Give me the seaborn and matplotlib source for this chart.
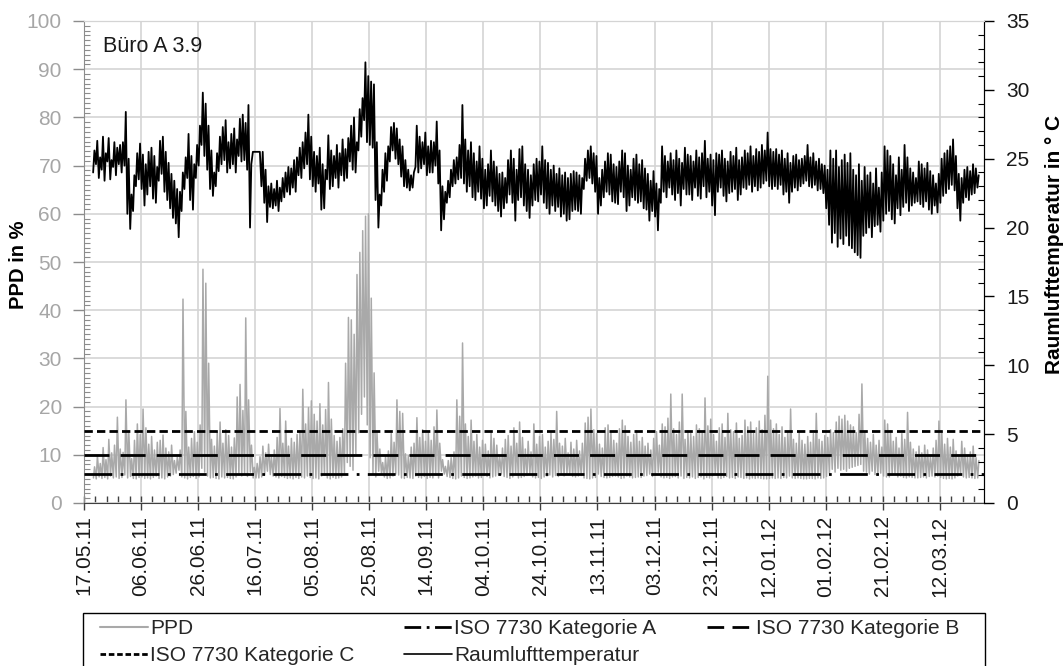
import numpy as np
import pandas as pd
import matplotlib
matplotlib.use("Agg")
import matplotlib.pyplot as plt
import matplotlib.dates as mdates
from matplotlib.ticker import MultipleLocator, FixedLocator
from matplotlib.lines import Line2D
from matplotlib.patches import Rectangle
import seaborn as sns

# ---------------- data ----------------
start_date = "2011-05-17"
first_day = 3          # first measured day after 17.05.11

# Raumlufttemperatur: daily high / low values (°C), days 3..313
temp_hi = [
    25.6, 26.3, 25.1, 26.6, 25.4, 26.5, 24.9, 26.2, 25.8, 26.0,
    26.2, 28.4, 25.0, 22.4, 23.8, 25.4, 26.1, 25.3, 24.6, 25.5,
    25.8, 25.2, 24.4, 26.3, 26.6, 25.5, 24.7, 23.9, 23.4, 22.8,
    22.6, 24.0, 25.1, 26.8, 25.2, 24.6, 26.0, 27.4, 29.8, 29.0,
    27.4, 25.6, 24.0, 25.4, 26.6, 27.3, 27.8, 26.2, 26.8, 27.2,
    26.4, 27.9, 28.2, 27.6, 28.9, 24.6, 25.5, 25.5, 25.5, 25.5,
    24.2, 23.0, 23.2, 22.8, 23.4, 22.9, 23.6, 24.0, 24.4, 24.3,
    24.9, 25.1, 25.8, 26.2, 26.9, 28.2, 26.6, 25.5, 25.2, 25.8,
    24.6, 24.2, 26.7, 25.6, 25.2, 26.0, 25.4, 26.4, 25.7, 26.5,
    27.4, 28.0, 26.2, 28.6, 29.4, 32.0, 31.0, 30.6, 30.4, 26.2,
    22.4, 24.2, 25.4, 25.9, 27.3, 27.6, 27.2, 26.4, 25.9, 24.9,
    24.2, 23.8, 24.0, 27.4, 26.6, 26.2, 26.9, 25.9, 26.3, 26.2,
    27.7, 25.6, 23.0, 22.6, 23.4, 24.2, 24.9, 25.1, 26.0, 28.9,
    26.4, 25.6, 26.2, 25.4, 24.8, 25.9, 25.0, 24.2, 24.6, 25.6,
    24.8, 24.4, 23.9, 24.0, 23.6, 24.9, 25.6, 25.0, 24.2, 25.7,
    25.9, 24.6, 24.2, 23.8, 24.6, 25.0, 24.8, 25.9, 24.9, 24.7,
    24.2, 24.5, 23.9, 24.3, 23.8, 24.0, 23.6, 23.9, 24.1, 24.0,
    23.8, 23.6, 25.0, 25.6, 25.9, 25.4, 25.2, 23.6, 24.2, 24.8,
    25.4, 25.3, 24.6, 24.4, 24.8, 25.6, 25.4, 24.5, 24.2, 25.0,
    25.3, 24.6, 24.9, 24.3, 23.9, 23.4, 24.1, 23.2, 22.8, 25.9,
    25.2, 24.8, 25.4, 24.9, 25.6, 25.0, 24.7, 25.8, 25.3, 25.2,
    24.8, 25.6, 25.1, 25.4, 26.3, 25.0, 25.3, 24.9, 25.4, 25.3,
    25.6, 25.0, 24.8, 25.5, 25.2, 25.8, 24.9, 25.1, 25.6, 25.4,
    25.9, 25.2, 25.7, 25.5, 26.0, 25.6, 26.9, 25.7, 25.5, 25.7,
    25.3, 25.6, 25.0, 25.4, 24.7, 25.2, 25.3, 24.9, 25.0, 25.2,
    26.0, 25.1, 25.4, 24.8, 25.0, 24.6, 24.5, 24.2, 25.6, 25.0,
    25.6, 24.4, 24.9, 25.3, 24.7, 25.4, 24.2, 23.8, 24.6, 23.4,
    24.4, 23.8, 24.0, 23.2, 24.3, 22.9, 24.0, 25.9, 25.6, 25.2,
    24.6, 23.8, 25.1, 24.2, 26.0, 25.1, 24.3, 24.0, 23.6, 24.8,
    24.6, 24.3, 24.7, 24.1, 23.8, 23.2, 23.9, 25.0, 25.4, 25.6,
    25.9, 26.4, 25.2, 23.9, 23.6, 24.2, 24.4, 24.1, 24.6, 24.3,
    23.8,
]
temp_lo = [
    24.0, 24.6, 23.6, 24.2, 23.4, 24.8, 23.5, 24.4, 23.8, 24.6,
    24.0, 24.5, 21.0, 19.9, 21.2, 23.0, 23.5, 22.8, 21.6, 22.4,
    23.0, 22.1, 21.8, 23.4, 23.9, 22.6, 22.0, 21.4, 20.7, 20.3,
    19.3, 21.2, 22.8, 23.6, 22.0, 21.3, 23.6, 24.5, 26.0, 25.2,
    24.2, 22.8, 22.3, 23.0, 24.1, 24.6, 24.9, 24.0, 24.3, 24.6,
    24.0, 25.2, 24.8, 24.9, 24.2, 20.0, 25.5, 25.5, 25.5, 23.0,
    21.8, 20.4, 21.5, 21.4, 21.6, 21.2, 21.9, 22.2, 22.6, 22.4,
    22.9, 22.6, 23.8, 23.6, 24.3, 24.6, 23.5, 23.0, 22.6, 23.2,
    21.3, 21.4, 23.5, 22.8, 23.0, 23.6, 22.9, 23.8, 23.4, 23.6,
    24.8, 24.2, 24.0, 25.6, 26.6, 27.8, 26.2, 26.0, 25.8, 22.0,
    20.0, 21.6, 22.6, 23.4, 24.8, 25.6, 25.0, 24.6, 23.7, 23.0,
    22.9, 22.7, 22.9, 24.4, 24.0, 24.3, 24.6, 23.8, 24.0, 24.0,
    24.5, 23.2, 19.8, 20.6, 21.8, 22.2, 23.0, 23.2, 23.5, 23.6,
    23.2, 22.6, 23.0, 22.2, 22.0, 22.6, 22.1, 21.4, 21.6, 22.3,
    21.9, 21.6, 21.2, 20.8, 21.4, 21.8, 22.4, 21.8, 20.5, 22.0,
    22.2, 21.6, 21.2, 20.7, 21.6, 22.0, 21.9, 22.4, 21.8, 21.4,
    21.0, 21.6, 21.2, 21.5, 20.8, 21.0, 20.5, 20.6, 21.2, 21.3,
    21.2, 21.0, 22.8, 23.4, 23.6, 23.2, 22.6, 21.0, 21.6, 22.2,
    22.6, 22.4, 21.9, 21.8, 21.7, 22.6, 22.2, 21.2, 21.6, 22.2,
    22.0, 21.8, 21.9, 21.4, 21.3, 20.5, 21.2, 20.8, 19.8, 21.8,
    22.6, 22.2, 22.9, 22.4, 22.0, 22.5, 21.6, 22.8, 22.4, 22.4,
    22.0, 22.9, 22.3, 22.1, 23.0, 22.2, 22.6, 21.6, 20.9, 22.6,
    22.9, 22.3, 21.9, 22.5, 22.6, 22.8, 22.0, 22.4, 22.9, 22.8,
    23.1, 22.6, 23.0, 22.7, 22.9, 23.2, 23.4, 23.0, 22.8, 23.0,
    22.8, 23.1, 22.4, 22.6, 21.8, 22.6, 22.9, 22.7, 23.0, 23.2,
    23.4, 23.0, 22.9, 23.1, 22.7, 22.8, 22.5, 21.4, 20.2, 18.9,
    19.6, 18.6, 19.2, 18.8, 19.4, 18.7, 18.5, 18.2, 18.0, 17.8,
    19.4, 19.6, 20.0, 19.3, 20.1, 20.2, 19.7, 20.5, 21.0, 21.2,
    20.6, 20.3, 21.4, 20.9, 21.5, 21.8, 21.2, 21.6, 21.8, 21.9,
    21.7, 21.5, 21.9, 21.3, 21.0, 21.6, 21.1, 21.8, 22.3, 22.5,
    22.8, 23.1, 22.7, 21.4, 20.5, 21.8, 22.2, 22.0, 22.4, 22.5,
    22.9,
]

# PPD: daily high / low values (%), days 3..313
ppd_hi = [
    7.5, 9.8, 8.2, 11.5, 9.0, 13.2, 10.4, 12.0, 17.8, 11.2,
    10.5, 21.4, 15.0, 9.2, 13.0, 16.4, 14.2, 19.5, 15.6, 12.2,
    13.8, 11.0, 12.6, 13.0, 14.1, 11.4, 10.6, 12.0, 8.8, 9.5,
    11.0, 42.3, 19.0, 11.6, 13.4, 14.8, 12.6, 16.2, 48.5, 45.6,
    29.0, 13.2, 11.8, 14.6, 16.8, 12.4, 15.2, 14.0, 11.6, 13.5,
    22.0, 24.6, 19.2, 38.4, 21.4, 12.0, 7.4, 8.2, 9.6, 11.8,
    10.4, 12.2, 9.6, 11.0, 13.6, 19.6, 12.4, 17.0, 11.8, 13.4,
    12.6, 14.2, 15.0, 23.6, 16.4, 19.8, 21.2, 18.4, 17.0, 20.6,
    16.2, 19.4, 25.0, 17.4, 14.0, 12.8, 13.6, 15.4, 29.0, 38.5,
    38.0, 35.0, 47.4, 52.0, 56.5, 59.5, 60.0, 42.5, 27.0, 14.6,
    11.2, 8.4, 9.6, 10.8, 14.4, 12.6, 21.4, 19.0, 18.6, 10.2,
    9.8, 11.6, 12.4, 17.7, 13.6, 15.2, 12.8, 14.6, 13.0, 15.8,
    19.3, 12.4, 9.0, 7.6, 8.8, 9.4, 10.6, 21.4, 18.0, 33.2,
    16.4, 13.8, 17.2, 12.8, 14.2, 11.6, 13.0, 12.2, 10.8, 14.6,
    13.4, 12.0, 9.8, 11.4, 13.2, 14.0, 11.8, 15.6, 12.4, 16.8,
    13.6, 11.2, 12.8, 10.6, 16.4, 12.2, 13.8, 14.2, 11.6, 12.8,
    14.6, 13.2, 19.0, 12.4, 11.8, 13.4, 10.4, 12.6, 11.2, 13.0,
    10.8, 12.4, 16.6, 17.8, 19.5, 15.2, 14.4, 12.2, 11.4, 15.6,
    16.2, 14.8, 13.0, 12.4, 15.4, 17.2, 16.0, 13.8, 12.6, 14.2,
    15.0, 12.8, 13.6, 11.8, 12.4, 11.0, 13.4, 14.8, 12.0, 16.4,
    15.8, 17.6, 22.6, 15.4, 14.2, 16.8, 22.6, 13.2, 15.0, 14.4,
    13.8, 16.2, 15.4, 14.6, 21.8, 16.0, 17.4, 14.2, 12.8, 15.6,
    16.4, 13.6, 18.6, 15.2, 14.8, 16.6, 13.4, 14.0, 17.2, 15.8,
    16.8, 14.4, 15.6, 17.0, 15.2, 18.2, 26.3, 17.2, 15.4, 16.4,
    14.2, 15.8, 13.6, 14.8, 19.5, 13.2, 12.4, 14.6, 13.0, 12.2,
    13.8, 12.6, 14.4, 18.6, 13.2, 12.8, 14.0, 13.6, 15.2, 14.6,
    16.8, 18.0, 17.4, 18.2, 17.0, 16.2, 15.8, 14.6, 18.4, 24.7,
    14.8, 13.4, 12.6, 14.2, 12.0, 13.0, 11.6, 17.2, 16.4, 15.0,
    12.8, 13.6, 11.4, 14.4, 13.2, 18.8, 12.6, 11.2, 10.6, 11.8,
    10.4, 12.0, 11.0, 9.8, 11.4, 13.0, 17.0, 14.8, 12.2, 13.4,
    11.6, 13.2, 10.8, 9.6, 12.8, 11.4, 9.8, 10.6, 11.8, 9.4,
    8.8,
]
ppd_lo = [
    5.2, 5.0, 5.4, 5.1, 5.3, 5.0, 5.6, 5.2, 5.4, 5.1,
    5.3, 5.8, 5.2, 5.5, 5.1, 5.0, 5.3, 5.4, 5.1, 5.2,
    5.0, 5.3, 5.6, 5.1, 5.2, 5.0, 5.4, 5.6, 5.9, 6.2,
    6.8, 5.4, 5.2, 5.0, 5.3, 5.5, 5.1, 5.4, 7.2, 6.4,
    5.6, 5.2, 5.3, 5.1, 5.0, 5.4, 5.2, 5.3, 5.1, 5.0,
    5.4, 5.8, 5.6, 6.0, 5.5, 6.4, 5.2, 5.2, 5.2, 5.4,
    5.8, 6.6, 5.9, 5.6, 5.4, 5.2, 5.5, 5.3, 5.1, 5.2,
    5.0, 5.3, 5.1, 5.4, 5.2, 5.6, 5.3, 5.1, 5.2, 5.0,
    5.6, 5.8, 5.2, 5.0, 5.3, 5.1, 5.2, 5.4, 6.2, 8.4,
    7.6, 6.8, 10.2, 14.6, 18.4, 22.0, 16.2, 9.4, 6.0, 5.4,
    6.6, 6.0, 5.4, 5.1, 5.2, 5.6, 6.0, 5.8, 5.2, 5.1,
    5.3, 5.2, 5.1, 5.6, 5.3, 5.2, 5.5, 5.1, 5.3, 5.2,
    5.8, 5.2, 6.6, 6.0, 5.5, 5.3, 5.1, 5.0, 5.2, 5.6,
    5.3, 5.1, 5.2, 5.4, 5.6, 5.2, 5.3, 5.7, 5.5, 5.2,
    5.4, 5.6, 5.8, 6.0, 5.5, 5.3, 5.1, 5.4, 5.9, 5.2,
    5.3, 5.5, 5.7, 6.1, 5.4, 5.2, 5.3, 5.1, 5.4, 5.6,
    5.8, 5.4, 5.7, 5.5, 5.9, 5.6, 6.2, 6.0, 5.5, 5.4,
    5.6, 5.7, 5.2, 5.1, 5.0, 5.2, 5.3, 6.0, 5.5, 5.3,
    5.2, 5.3, 5.5, 5.6, 5.4, 5.1, 5.2, 5.6, 5.4, 5.2,
    5.3, 5.4, 5.3, 5.6, 5.7, 6.0, 5.5, 5.8, 6.4, 5.4,
    5.2, 5.3, 5.1, 5.4, 5.5, 5.2, 5.6, 5.1, 5.3, 5.2,
    5.4, 5.1, 5.3, 5.4, 5.0, 5.3, 5.2, 5.6, 5.9, 5.2,
    5.1, 5.3, 5.5, 5.2, 5.3, 5.1, 5.4, 5.3, 5.1, 5.2,
    5.0, 5.2, 5.1, 5.2, 5.1, 5.0, 5.0, 5.1, 5.2, 5.1,
    5.2, 5.1, 5.3, 5.2, 5.6, 5.2, 5.1, 5.2, 5.1, 5.0,
    5.0, 5.1, 5.1, 5.0, 5.2, 5.1, 5.2, 5.5, 6.2, 7.0,
    6.4, 7.2, 6.8, 7.0, 6.6, 7.2, 7.4, 7.6, 7.8, 8.0,
    6.6, 6.4, 6.0, 6.6, 5.9, 5.8, 6.2, 5.6, 5.4, 5.4,
    5.8, 6.0, 5.4, 5.6, 5.3, 5.2, 5.4, 5.3, 5.2, 5.2,
    5.3, 5.4, 5.2, 5.5, 5.6, 5.4, 5.6, 5.3, 5.1, 5.0,
    5.1, 5.0, 5.2, 5.6, 6.2, 5.4, 5.2, 5.3, 5.2, 5.1,
    5.2,
]

# ISO 7730 category limits (PPD %)
kat_names = ["ISO 7730 Kategorie A", "ISO 7730 Kategorie B", "ISO 7730 Kategorie C"]
kat_values = [6, 10, 15]

tick_step_days = 20
n_ticks = 16
chart_title = "Büro A 3.9"

# ---------------- build long tables ----------------
t0 = pd.Timestamp(start_date)
days = np.arange(first_day, first_day + len(temp_hi))

def interleave(lo_vals, hi_vals, lo_off, hi_off):
    t, v = [], []
    for d, lo, hi in zip(days, lo_vals, hi_vals):
        t += [t0 + pd.Timedelta(days=float(d + lo_off)), t0 + pd.Timedelta(days=float(d + hi_off))]
        v += [lo, hi]
    return pd.DataFrame({"t": t, "v": v})

df_temp = interleave(temp_lo, temp_hi, 0.2, 0.65)
df_ppd = interleave(ppd_lo, ppd_hi, 0.3, 0.7)

# ---------------- styling ----------------
sns.set_style("ticks")
plt.rcParams["font.family"] = ["Liberation Sans", "DejaVu Sans"]

W, H = 1063, 666
fig = plt.figure(figsize=(W / 100, H / 100), dpi=100)
L, R, T, B = 84, 984, 21, 503
ax = fig.add_axes([L / W, 1 - B / H, (R - L) / W, (B - T) / H])
ax2 = ax.twinx()

grid_c = "#d4d4d4"
ppd_c = "#a9a9a9"

sns.lineplot(data=df_ppd, x="t", y="v", ax=ax, color=ppd_c, linewidth=1.1,
             estimator=None, zorder=2)
dash_styles = [(0, (10, 3, 1, 3)), (0, (9, 4)), (0, (3, 1.5))]
for val, ls in zip(kat_values, dash_styles):
    ax.axhline(val, color="black", linewidth=2.0, linestyle=ls, zorder=3)

sns.lineplot(data=df_temp, x="t", y="v", ax=ax2, color="black", linewidth=1.3,
             estimator=None)

# x axis
xmin = t0
xmax = t0 + pd.Timedelta(days=315.5)
ax.set_xlim(xmin, xmax)
major_dates = pd.date_range(t0, periods=n_ticks, freq=f"{tick_step_days}D")
minor_dates = pd.date_range(t0, periods=80, freq="4D")
ax.xaxis.set_major_locator(FixedLocator(mdates.date2num(major_dates)))
ax.xaxis.set_minor_locator(FixedLocator(mdates.date2num(minor_dates)))
ax.xaxis.set_major_formatter(mdates.DateFormatter("%d.%m.%y"))
ax.tick_params(axis="x", which="major", direction="inout", length=10, width=1,
               color="#404040", labelsize=15, labelrotation=90, pad=4,
               labelcolor="#1a1a1a")
ax.tick_params(axis="x", which="minor", direction="in", length=5, width=1, color="#404040")

# left axis
ax.set_ylim(0, 100)
ax.yaxis.set_major_locator(MultipleLocator(10))
ax.yaxis.set_minor_locator(MultipleLocator(1))
ax.tick_params(axis="y", which="major", direction="out", length=8, width=1,
               color="#8c8c8c", labelsize=15, labelcolor="#a6a6a6", pad=8)
ax.tick_params(axis="y", which="minor", direction="in", length=4, width=0.8, color="#8c8c8c")
ax.set_ylabel("PPD in %", fontsize=14.5, fontweight="bold", color="black")
ax.yaxis.set_label_coords(-0.062, 0.494)

# right axis
ax2.set_ylim(0, 35)
ax2.yaxis.set_major_locator(MultipleLocator(5))
ax2.yaxis.set_minor_locator(MultipleLocator(1))
ax2.tick_params(axis="y", which="major", direction="out", length=7, width=1,
                color="black", labelsize=15, labelcolor="#1a1a1a", pad=9)
ax2.tick_params(axis="y", which="minor", direction="in", length=4, width=0.8, color="black")
ax2.set_ylabel("Raumlufttemperatur in ° C", fontsize=15, fontweight="bold",
               color="black", rotation=90)
ax2.yaxis.set_label_coords(1.068, 0.537)

ax.set_xlabel("")
ax2.set_xlabel("")

# grid & spines
ax.grid(True, which="major", color=grid_c, linewidth=1.2, zorder=0)
ax.set_axisbelow(True)
ax2.grid(False)
ax.spines["left"].set_color("#8c8c8c")
ax.spines["bottom"].set_color("#404040")
ax.spines["top"].set_color(grid_c)
ax2.spines["right"].set_color("black")
ax2.spines["left"].set_visible(False)
ax2.spines["top"].set_color(grid_c)
ax2.spines["bottom"].set_visible(False)

ax.text(0.021, 0.968, chart_title, transform=ax.transAxes, fontsize=15.5,
        va="top", ha="left", color="#1a1a1a")

# legend (row-wise order emulated with column-major fill), frame drawn separately
h_ppd = Line2D([], [], color=ppd_c, linewidth=1.5)
h_a = Line2D([], [], color="black", linewidth=2, linestyle=(0, (6, 2, 1, 2)))
h_b = Line2D([], [], color="black", linewidth=2, linestyle=(0, (6, 3)))
h_c = Line2D([], [], color="black", linewidth=2, linestyle=(0, (2, 1)))
h_t = Line2D([], [], color="black", linewidth=1.2)
handles = [h_ppd, h_c, h_a, h_t, h_b]
labels = ["PPD", kat_names[2], kat_names[0], "Raumlufttemperatur", kat_names[1]]
leg = fig.legend(handles, labels, loc="upper left", ncol=3,
                 bbox_to_anchor=(100 / W, 1 - 619 / H),
                 fontsize=15, frameon=False,
                 handlelength=2.3, handletextpad=0.1, labelspacing=0.38,
                 borderpad=0.0, borderaxespad=0.0, columnspacing=2.4)
fig.add_artist(Rectangle((83 / W, -0.1), (985 - 83) / W, 0.1 + (666 - 613) / H,
                         transform=fig.transFigure, fill=False,
                         edgecolor="black", linewidth=1.0))

fig.savefig("out.png", dpi=100)
